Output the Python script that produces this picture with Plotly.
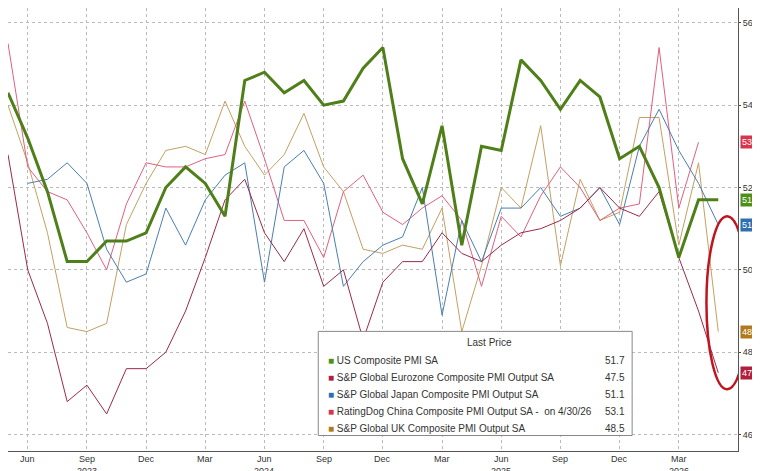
import plotly.graph_objects as go

months = list(range(37))  # index 0 = Apr 2023 ... 36 = Apr 2026
us = [54.3,53.2,51.9,50.2,50.2,50.7,50.7,50.9,52.0,52.5,52.1,51.3,54.6,54.8,54.3,54.6,54.0,54.1,54.9,55.4,
      52.7,51.6,53.5,50.6,53.0,52.9,55.1,54.6,53.9,54.6,54.2,52.7,53.0,52.0,50.3,51.7,51.7]
ez = [52.8,50.0,48.7,46.8,47.2,46.5,47.6,47.6,48.0,49.0,50.3,51.7,52.2,50.9,50.2,51.0,49.6,50.0,48.3,49.7,
      50.2,50.2,50.9,50.4,50.2,50.6,50.9,51.0,51.2,51.5,52.0,51.5,51.3,51.9,50.3,49.0,47.5]
jp = [None,52.1,52.2,52.6,52.1,50.5,49.7,49.9,51.5,50.6,51.7,52.3,52.6,49.7,52.5,52.9,52.1,49.6,50.2,50.6,
      50.8,52.0,48.9,51.2,50.2,51.5,51.5,52.0,51.3,51.5,52.0,51.1,53.0,53.9,52.9,52.1,51.1]
cn = [55.5,52.5,51.9,51.7,50.9,50.0,51.6,52.6,52.5,52.5,52.7,52.8,54.1,52.7,51.2,51.2,50.3,51.9,52.3,51.4,
      51.1,51.5,51.8,51.2,49.6,51.3,50.8,51.8,52.5,52.0,51.2,51.5,51.6,55.4,51.5,53.1]
uk = [54.0,52.6,50.9,48.6,48.5,48.7,51.1,52.1,52.9,53.0,52.8,54.1,53.0,52.3,52.8,53.8,52.5,51.9,50.5,50.4,
      50.6,50.5,51.5,48.5,50.1,52.0,51.5,53.5,50.1,52.2,51.2,51.4,53.7,53.7,50.6,52.6,48.5]
tick_idx = [1,4,7,10,13,16,19,22,25,28,31,34]
tick_lbl = ["Jun","Sep","Dec","Mar","Jun","Sep","Dec","Mar","Jun","Sep","Dec","Mar"]
year_idx = [4,13,25,34]
year_lbl = ["2023","2024","2025","2026"]

names = ["US Composite PMI SA","S&P Global Eurozone Composite PMI Output SA","S&P Global Japan Composite PMI Output SA",
         "RatingDog China Composite PMI Output SA -  on 4/30/26","S&P Global UK Composite PMI Output SA"]
last = ["51.7","47.5","51.1","53.1","48.5"]
colors = ["#4f7f19","#9a2a48","#4a7eb0","#e0607e","#c4a062"]
badge = ["#4f8f19","#b0203c","#2f6fb0","#d8344e","#b07a1c"]

fig = go.Figure()
for s, c, w in [(uk,colors[4],1),(cn,colors[3],1),(jp,colors[2],1),(ez,colors[1],1),(us,colors[0],3)]:
    fig.add_trace(go.Scatter(x=months[:len(s)], y=s, mode="lines", line=dict(color=c, width=w), showlegend=False))

ann = []
for i, l in zip(tick_idx, tick_lbl):
    ann.append(dict(x=i, y=0, xref="x", yref="paper", yanchor="top", yshift=-1, text=l, showarrow=False,
                    font=dict(size=9, color="#333")))
for i, l in zip(year_idx, year_lbl):
    ann.append(dict(x=i, y=0, xref="x", yref="paper", yanchor="top", yshift=-13, text=l, showarrow=False,
                    font=dict(size=9, color="#333")))
for v, c in zip(last, badge):
    ann.append(dict(x=1, y=float(v), xref="paper", yref="y", xanchor="left", xshift=2, text=v, showarrow=False,
                    font=dict(size=9, color="white"), bgcolor=c, borderpad=1))
ann.append(dict(x=0.66, y=0.245, xref="paper", yref="paper", text="Last Price", showarrow=False,
                font=dict(size=10, color="#333"), yanchor="middle"))
for k in range(5):
    yy = 0.205 - k*0.0385
    ann.append(dict(x=0.435, y=yy, xref="paper", yref="paper", xanchor="left", yanchor="middle",
                    text="<span style='color:%s'>■</span> %s" % (badge[k], names[k]), showarrow=False,
                    font=dict(size=10, color="#333")))
    ann.append(dict(x=0.848, y=yy, xref="paper", yref="paper", xanchor="right", yanchor="middle",
                    text=last[k], showarrow=False, font=dict(size=10, color="#333")))

shapes = [dict(type="rect", xref="paper", yref="paper", x0=0.425, x1=0.855, y0=0.035, y1=0.27,
               line=dict(color="#888", width=1), fillcolor="white", layer="above"),
          dict(type="circle", xref="x", yref="y", x0=35.4, x1=37.5, y0=47.1, y1=51.3,
               line=dict(color="#c0141e", width=2.5))]

fig.update_layout(
    width=760, height=471, margin=dict(l=0, r=30, t=0, b=28),
    paper_bgcolor="white", plot_bgcolor="white",
    font=dict(family="Liberation Sans, Arial", size=10, color="#333"),
    xaxis=dict(range=[0, 37], tickvals=tick_idx, showticklabels=False, showgrid=True,
               gridcolor="#bbb", griddash="dot", zeroline=False, showline=True, linecolor="#555"),
    yaxis=dict(range=[45.6, 56.36], side="right", tickvals=[46,48,50,52,54,56],
               ticktext=["46.0","48.0","50.0","52.0","54.0","56.0"], ticks="outside", ticklen=2,
               tickfont=dict(size=9), showgrid=True, gridcolor="#bbb", griddash="dot", zeroline=False,
               showline=True, linecolor="#555"),
    annotations=ann, shapes=shapes,
)
fig.write_html("out.html")
